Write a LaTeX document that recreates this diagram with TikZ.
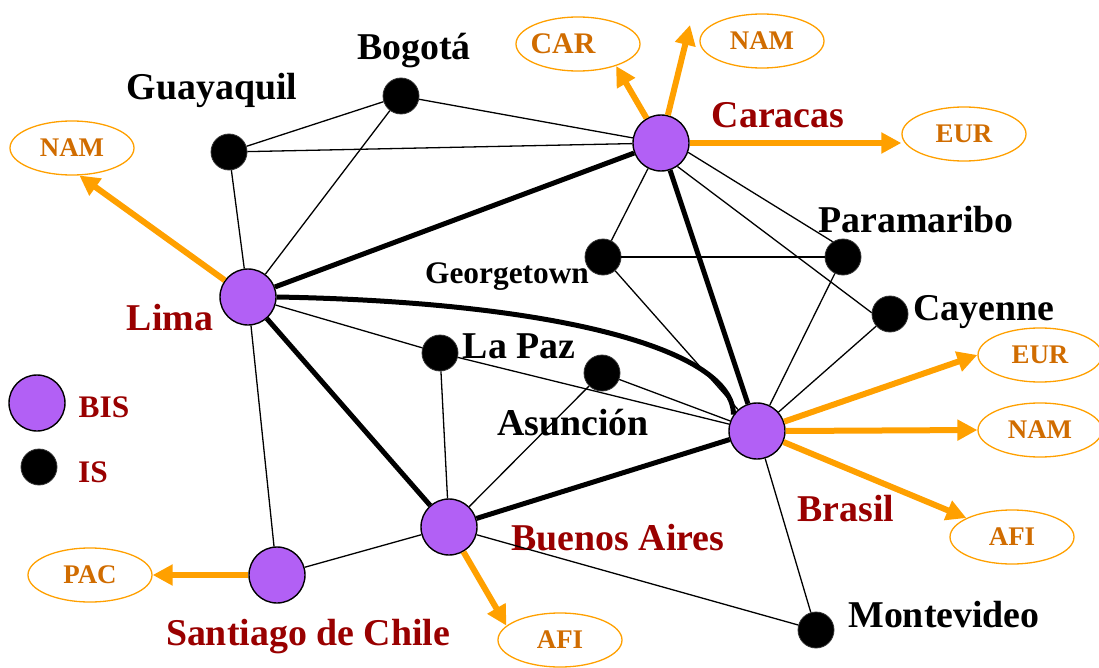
\documentclass[tikz,border=0pt]{standalone}
\usepackage{fontspec}
\setmainfont{Liberation Serif}
\usetikzlibrary{shapes.geometric,arrows.meta}
\definecolor{bispurple}{RGB}{178,96,245}
\definecolor{cityred}{RGB}{153,0,0}
\definecolor{linkorange}{RGB}{255,160,0}
\definecolor{regtext}{RGB}{208,108,0}
\tikzset{
  bisnode/.style={circle,draw=black,line width=1.4bp,fill=bispurple,minimum size=56bp,inner sep=0pt},
  isnode/.style={circle,fill=black,draw=black!80,line width=0.8bp,minimum size=36bp,inner sep=0pt},
  region/.style={ellipse,draw=linkorange,line width=1.3bp,text=regtext,minimum width=124bp,minimum height=54bp,inner sep=0pt,font=\fontsize{27}{29}\selectfont\bfseries},
  blacklabel/.style={anchor=base,inner sep=0pt,font=\fontsize{38}{40}\selectfont\bfseries},
  smalllabel/.style={anchor=base,inner sep=0pt,font=\fontsize{31.5}{33}\selectfont\bfseries},
  redlabel/.style={anchor=base,inner sep=0pt,text=cityred,font=\fontsize{38}{40}\selectfont\bfseries},
  legendlabel/.style={anchor=base,inner sep=0pt,text=cityred,font=\fontsize{31.5}{33}\selectfont\bfseries},
  thinlink/.style={line width=1.3bp},
  thicklink/.style={line width=5bp},
  outlink/.style={draw=linkorange,line width=6bp,-{Triangle[length=20bp,width=20bp]}},
}
\begin{document}
\begin{tikzpicture}[x=1bp,y=-1bp]
\useasboundingbox (0,0) rectangle (1099,668);
% nodes
\node[isnode] (bog) at (401,96) {};
\node[isnode] (guay) at (229,152) {};
\node[bisnode] (car) at (661,143) {};
\node[isnode] (geo) at (603,257) {};
\node[isnode] (para) at (843,257) {};
\node[isnode] (cay) at (890,314) {};
\node[bisnode] (lima) at (248,297) {};
\node[isnode] (lapaz) at (440,353) {};
\node[isnode] (asu) at (602,373) {};
\node[bisnode] (bra) at (757,431) {};
\node[bisnode] (ba) at (449,527) {};
\node[bisnode] (sant) at (277,575) {};
\node[isnode] (mont) at (816,630) {};
% legend
\node[bisnode] (legbis) at (37,403) {};
\node[isnode] (legis) at (39,467) {};
\node[legendlabel] (tbis) at (104,417) {BIS};
\node[legendlabel] (tis) at (93,482) {IS};
% region ellipses
\node[region,font=\fontsize{30}{32}\selectfont\bfseries] (carreg) at (578,44) {\makebox[0pt]{\hspace{-30bp}CAR}};
\node[region] (namtop) at (762,41) {NAM};
\node[region] (eurtop) at (964,134) {EUR};
\node[region] (namleft) at (72,148) {NAM};
\node[region] (eurright) at (1040,355) {EUR};
\node[region] (namright) at (1040,430) {NAM};
\node[region] (afiright) at (1012,537) {AFI};
\node[region] (afibot) at (560,640) {AFI};
\node[region] (pac) at (90,575) {PAC};
\coordinate (namtoptip) at (690,25);
% labels
\node[blacklabel] (tbog) at (414,60) {Bogotá};
\node[blacklabel] (tguay) at (212,100) {Guayaquil};
\node[redlabel] (tcar) at (778,128) {Caracas};
\node[blacklabel] (tpara) at (916,232) {Paramaribo};
\node[smalllabel] (tgeo) at (507,283) {Georgetown};
\node[blacklabel] (tcay) at (984,320) {Cayenne};
\node[redlabel] (tlima) at (170,330) {Lima};
\node[blacklabel] (tlapaz) at (519,358) {La Paz};
\node[blacklabel] (tasu) at (573,435) {Asunción};
\node[redlabel] (tbra) at (846,521) {Brasil};
\node[redlabel] (tba) at (618,550) {Buenos Aires};
\node[redlabel] (tsant) at (308,645) {Santiago de Chile};
\node[blacklabel] (tmont) at (944,627) {Montevideo};
% thin links
\draw[thinlink] (bog) -- (guay);
\draw[thinlink] (bog) -- (car);
\draw[thinlink] (bog) -- (lima);
\draw[thinlink] (guay) -- (car);
\draw[thinlink] (guay) -- (lima);
\draw[thinlink] (car) -- (geo);
\draw[thinlink] (car.-19) -- (para.124);
\draw[thinlink] (car.-55) -- (cay.176);
\draw[thinlink] (geo) -- (para);
\draw[thinlink] (geo) -- (bra);
\draw[thinlink] (para) -- (bra);
\draw[thinlink] (cay) -- (bra);
\draw[thinlink] (lima) -- (lapaz);
\draw[thinlink] (lapaz) -- (bra);
\draw[thinlink] (lapaz) -- (ba);
\draw[thinlink] (asu) -- (bra);
\draw[thinlink] (asu) -- (ba);
\draw[thinlink] (lima) -- (sant);
\draw[thinlink] (sant) -- (ba);
\draw[thinlink] (ba) -- (mont);
\draw[thinlink] (bra) -- (mont);
% thick links
\draw[thicklink] (lima) -- (car);
\draw[thicklink] (lima) -- (ba);
\draw[thicklink] (car) -- (bra);
\draw[thicklink] (ba) -- (bra);
\draw[thicklink] (lima.east) .. controls (560,302) and (733,350) .. (bra.145);
% outgoing links
\draw[outlink] (lima) -- (namleft.-75);
\draw[outlink] (car) -- (carreg.-30);
\draw[outlink] (car) -- (namtoptip);
\draw[outlink] (car.east) -- (car -| eurtop.west);
\draw[outlink] (bra) -- (eurright.west);
\draw[outlink] (bra.east) -- (namright.west);
\draw[outlink] (bra) -- (afiright);
\draw[outlink] (ba) -- (afibot.165);
\draw[outlink] (sant.west) -- (pac.east);
\end{tikzpicture}
\end{document}
